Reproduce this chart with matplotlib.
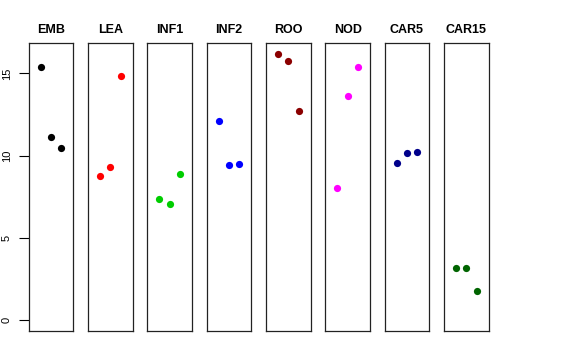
import matplotlib
matplotlib.use("Agg")
import matplotlib.pyplot as plt

tissues = ["EMB", "LEA", "INF1", "INF2", "ROO", "NOD", "CAR5", "CAR15"]
colors = ["#000000", "#FF0000", "#00CD00", "#0000FF",
          "#8B0000", "#FF00FF", "#00008B", "#006400"]
values = [
    [15.41, 11.11, 10.48],
    [8.74, 9.31, 14.84],
    [7.36, 7.06, 8.88],
    [12.09, 9.43, 9.47],
    [16.20, 15.74, 12.69],
    [8.01, 13.60, 15.37],
    [9.53, 10.18, 10.24],
    [3.18, 3.16, 1.78],
]
reps = [1, 2, 3]
yticks = [0, 5, 10, 15]

W, H = 576, 360
fig = plt.figure(figsize=(W / 100, H / 100), dpi=100)

ymax = max(max(v) for v in values)
pad = 0.04 * ymax

for i, (name, col, vals) in enumerate(zip(tissues, colors, values)):
    left = 28.7 + i * 59.33
    ax = fig.add_axes([left / W, 29 / H, 44.6 / W, 288 / H])
    ax.scatter(reps, vals, color=col, s=27, zorder=3, linewidths=0)
    ax.set_xlim(-0.16, 4.16)
    ax.set_ylim(-pad, ymax + pad)
    ax.set_xticks([])
    for sp in ax.spines.values():
        sp.set_linewidth(0.9)
        sp.set_color("#222222")
    ax.set_title(name, fontsize=9, fontweight="bold", pad=7,
                 family="Liberation Sans")
    if i == 0:
        ax.set_yticks(yticks)
        ax.set_yticklabels([str(t) for t in yticks], fontsize=8,
                           family="Liberation Sans")
        ax.tick_params(axis="y", length=7, width=0.8, pad=5,
                       labelrotation=90)
        for lab in ax.get_yticklabels():
            lab.set_verticalalignment("center")
            lab.set_horizontalalignment("right")
    else:
        ax.set_yticks([])

fig.savefig("out.png", dpi=100)
